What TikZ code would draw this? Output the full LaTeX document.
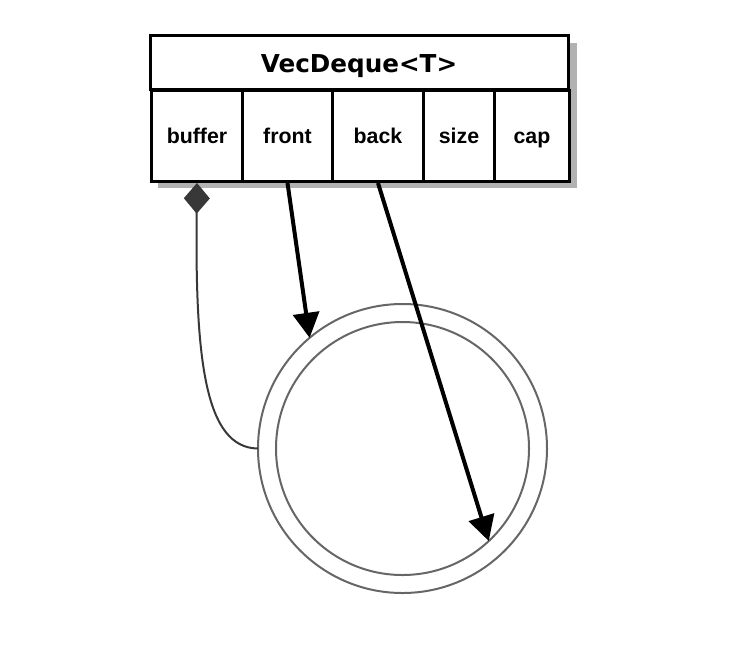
\documentclass[tikz,border=0pt]{standalone}
\usepackage{fontspec}
\setmainfont{Liberation Sans}
\newfontfamily\titlefont{DejaVu Sans}
\usetikzlibrary{arrows.meta}

\begin{document}
\begin{tikzpicture}[x=0.75pt, y=-0.75pt,
    cell/.style={draw, fill=white, line width=2.25pt, inner sep=0pt, minimum height=68.25pt,
      text height=11pt, text depth=0.2pt, font=\fontsize{16}{19}\selectfont\bfseries},
    ring/.style={circle, draw=black!60, line width=1.5pt, inner sep=0pt, outer sep=0pt},
    ptr/.style={line width=3pt, -{Triangle[length=18.75pt, width=19.5pt]}},
    owns/.style={draw=black!78, line width=1.5pt, {Diamond[length=23pt, width=19.5pt, fill=black!78]}-}]
    \useasboundingbox (0,0) rectangle (752,647);

    % shadow and table
    \fill[black!30] (158,43) rectangle (577,188);
    \node[cell, minimum width=313.5pt, minimum height=40.5pt, text height=15pt, text depth=0pt,
      font=\titlefont\fontsize{18.5}{22}\selectfont\bfseries] (head) at (359,62) {VecDeque<T>};
    \foreach \name/\x/\w in {buffer/150/91, front/241/90, back/331/91, size/422/71, cap/493/75}{
      \node[cell, minimum width=\w*0.75pt, anchor=north west] (\name) at (\x,89) {\name};
    }

    % ring buffer
    \node[ring, minimum size=216.75pt] (ringout) at (402.5,448.5) {};
    \node[ring, minimum size=189.75pt] (ringin) at (402.5,448.5) {};

    \draw[owns] (buffer.south) .. controls (195,360) and (205,448) .. (ringout.west);
    \draw[ptr] (front.south) -- (ringout.130.8);
    \draw[ptr] (back.south) -- (ringin.-47.6);

  \end{tikzpicture}
\end{document}
